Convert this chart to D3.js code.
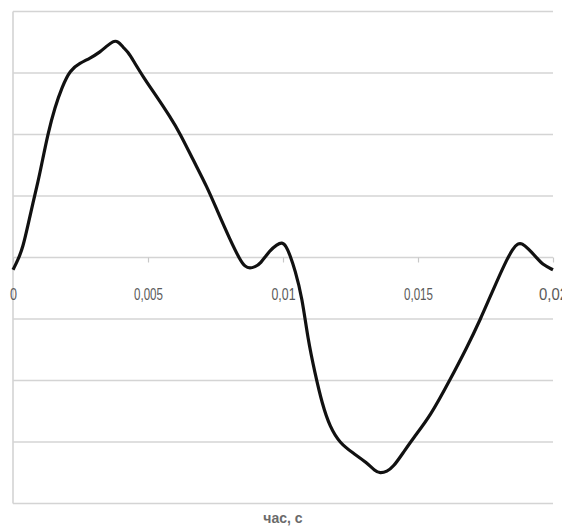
<!DOCTYPE html>
<html>
<head>
<meta charset="utf-8">
<script src="https://cdn.jsdelivr.net/npm/d3@7"></script>
<style>
  html, body { margin: 0; padding: 0; background: #fff; }
  svg { display: block; }
</style>
</head>
<body>
<svg id="chart" width="562" height="528"></svg>
<script>
// time, s
const times = [0, 0.000185, 0.00037, 0.000556, 0.000741, 0.000926, 0.001074, 0.001296, 0.001556, 0.001815,
  0.002111, 0.002481, 0.002852, 0.003222, 0.003481, 0.003704, 0.003889, 0.004074, 0.004259, 0.004444,
  0.004815, 0.005333, 0.005815, 0.006185, 0.006667, 0.007185, 0.007556, 0.008037, 0.008407, 0.008593,
  0.008778, 0.008963, 0.009148, 0.009519, 0.009778, 0.009963, 0.010111, 0.010259, 0.010444, 0.010704,
  0.010926, 0.011185, 0.011444, 0.011741, 0.012111, 0.012593, 0.013111, 0.013407, 0.013593, 0.013852,
  0.014074, 0.014444, 0.014815, 0.015444, 0.016185, 0.016815, 0.017296, 0.017778, 0.018222, 0.018519,
  0.018704, 0.018852, 0.019074, 0.019407, 0.01963, 0.02];
// signal values
const values = [-0.2, -0.04, 0.17, 0.53, 0.89, 1.23, 1.54, 2.02, 2.45, 2.77,
  3.05, 3.16, 3.24, 3.34, 3.44, 3.52, 3.52, 3.42, 3.34, 3.21,
  2.94, 2.61, 2.29, 2.02, 1.59, 1.15, 0.77, 0.29, -0.04, -0.15,
  -0.18, -0.15, -0.11, 0.12, 0.21, 0.25, 0.19, 0.04, -0.2, -0.64,
  -1.34, -1.88, -2.37, -2.76, -3.02, -3.18, -3.34, -3.47, -3.51, -3.48,
  -3.41, -3.18, -2.94, -2.59, -1.99, -1.46, -1.02, -0.53, -0.09, 0.15,
  0.23, 0.23, 0.15, -0.01, -0.12, -0.2];
const xTicks = [0, 0.005, 0.01, 0.015, 0.02];
const xTickLabels = ["0", "0,005", "0,01", "0,015", "0,02"];
const yGrid = [-4, -3, -2, -1, 0, 1, 2, 3, 4];
const xTitle = "час, с";

const svg = d3.select("#chart");
const x = d3.scaleLinear().domain([0, 0.02]).range([13, 553]);
const y = d3.scaleLinear().domain([-4, 4]).range([503.5, 11.5]);

// horizontal gridlines
svg.append("g").selectAll("line").data(yGrid).join("line")
  .attr("x1", x(0)).attr("x2", x(0.02))
  .attr("y1", d => y(d)).attr("y2", d => y(d))
  .attr("stroke", "#d4d4d4").attr("stroke-width", 1.6);

// vertical axis line
svg.append("line")
  .attr("x1", x(0)).attr("x2", x(0))
  .attr("y1", y(4)).attr("y2", y(-4))
  .attr("stroke", "#d4d4d4").attr("stroke-width", 1.6);

// x axis at zero
const xAxis = d3.axisBottom(x).tickValues(xTicks).tickSize(5)
  .tickFormat((d, i) => xTickLabels[i]);
const gx = svg.append("g").attr("transform", `translate(0,${y(0)})`).call(xAxis);
gx.select(".domain").remove();
gx.selectAll(".tick line").attr("stroke", "#c8c8c8").attr("stroke-width", 1.2);
gx.selectAll(".tick text")
  .attr("fill", "#5a5a5a")
  .attr("font-family", "'Liberation Sans Narrow', 'Liberation Sans', Arial, sans-serif")
  .attr("font-size", 16.5)
  .attr("dy", "0")
  .attr("y", 42)
  .attr("textLength", (d, i) => [7, 29, 24, 29, 29][i])
  .attr("lengthAdjust", "spacingAndGlyphs");

// line
const line = d3.line()
  .x((d, i) => x(times[i]))
  .y(d => y(d))
  .curve(d3.curveBasis);
svg.append("path").datum(values)
  .attr("d", line)
  .attr("fill", "none")
  .attr("stroke", "#111")
  .attr("stroke-width", 3.2)
  .attr("stroke-linejoin", "round");

// x title
svg.append("text")
  .attr("x", (x(0) + x(0.02)) / 2).attr("y", 523)
  .attr("text-anchor", "middle")
  .attr("font-family", "'Liberation Sans', Arial, sans-serif")
  .attr("font-weight", "bold")
  .attr("font-size", 14)
  .attr("fill", "#6a6a6a")
  .text(xTitle);
</script>
</body>
</html>
